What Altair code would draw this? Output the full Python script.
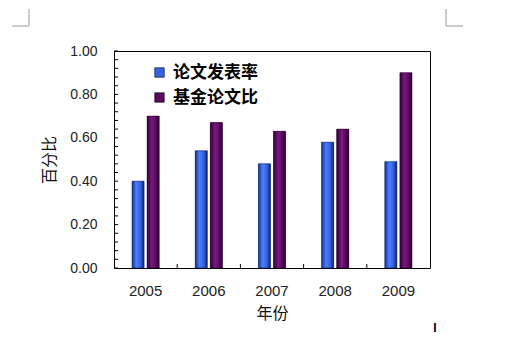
import altair as alt
import pandas as pd

years = ["2005", "2006", "2007", "2008", "2009"]
series_names = ["论文发表率", "基金论文比"]
rate_values = [0.40, 0.54, 0.48, 0.58, 0.49]
fund_values = [0.70, 0.67, 0.63, 0.64, 0.90]
y_tick_labels = [0.0, 0.2, 0.4, 0.6, 0.8, 1.0]
y_minor_ticks = [0.0, 0.04, 0.08, 0.12, 0.16, 0.2, 0.24, 0.28, 0.32, 0.36, 0.4,
                 0.44, 0.48, 0.52, 0.56, 0.6, 0.64, 0.68, 0.72, 0.76, 0.8,
                 0.84, 0.88, 0.92, 0.96, 1.0]
x_boundary_years = ["2006", "2007", "2008", "2009"]

W, H = 316, 217

rows = []
for yr, a, b in zip(years, rate_values, fund_values):
    rows.append({"year": yr, "series": series_names[0], "value": a})
    rows.append({"year": yr, "series": series_names[1], "value": b})
df = pd.DataFrame(rows)

x_enc = alt.X("year:N", title="年份",
              scale=alt.Scale(domain=years, paddingInner=0.57, paddingOuter=0.285),
              axis=alt.Axis(labelAngle=0, tickSize=0, domain=False,
                            labelFont="Liberation Sans", labelFontSize=15,
                            labelColor="#222", labelPadding=15,
                            titleFont="Noto Sans CJK SC", titleFontSize=16,
                            titleFontWeight="normal", titleColor="#111",
                            titlePadding=7))
xo_enc = alt.XOffset("series:N",
                     scale=alt.Scale(domain=series_names, paddingInner=0.2,
                                     paddingOuter=0))
y_axis = alt.Axis(values=y_tick_labels, format=".2f", tickSize=0,
                  domain=False, grid=False,
                  labelFont="Liberation Sans", labelFontSize=14,
                  labelColor="#222", labelPadding=17,
                  titleFont="Noto Sans CJK SC", titleFontSize=16,
                  titleFontWeight="normal", titleColor="#111",
                  titlePadding=12)
y_enc = alt.Y("value:Q", title="百分比",
              scale=alt.Scale(domain=[0, 1], nice=False), axis=y_axis)

base = alt.Chart(df)

legend_bars = base.mark_bar().encode(
    x=x_enc, xOffset=xo_enc, y=y_enc,
    color=alt.Color("series:N",
                    scale=alt.Scale(domain=series_names,
                                    range=["#3563e6", "#5c0a60"]),
                    legend=alt.Legend(orient="none", legendX=37, legendY=13,
                                      title=None, symbolType="square",
                                      symbolSize=90, symbolStrokeColor="#000",
                                      symbolStrokeWidth=0.6,
                                      labelFont="Noto Sans CJK SC",
                                      labelFontSize=17, labelFontWeight="bold",
                                      labelColor="#000", labelOffset=5,
                                      rowPadding=7, padding=0)),
)

blue_grad = alt.Gradient(gradient="linear", x1=0, x2=1, y1=0, y2=0, stops=[
    alt.GradientStop(color="#16308c", offset=0),
    alt.GradientStop(color="#4a80ff", offset=0.35),
    alt.GradientStop(color="#3560e0", offset=0.7),
    alt.GradientStop(color="#0f2470", offset=1)])
purple_grad = alt.Gradient(gradient="linear", x1=0, x2=1, y1=0, y2=0, stops=[
    alt.GradientStop(color="#33003a", offset=0),
    alt.GradientStop(color="#7a1a80", offset=0.4),
    alt.GradientStop(color="#5c0a62", offset=0.7),
    alt.GradientStop(color="#2e0034", offset=1)])

blue_bars = base.transform_filter(alt.datum.series == series_names[0]).mark_bar(
    color=blue_grad, stroke="#0a1a50", strokeWidth=0.5).encode(
    x=x_enc, xOffset=xo_enc, y=y_enc)
purple_bars = base.transform_filter(alt.datum.series == series_names[1]).mark_bar(
    color=purple_grad, stroke="#200024", strokeWidth=0.5).encode(
    x=x_enc, xOffset=xo_enc, y=y_enc)

yticks = alt.Chart(pd.DataFrame({"value": y_minor_ticks})).mark_rule(
    color="#000", strokeWidth=1).encode(
    y=y_enc, x=alt.value(0), x2=alt.value(4))

main = alt.layer(legend_bars, blue_bars, purple_bars, yticks)

xticks = alt.Chart(pd.DataFrame({"year": x_boundary_years})).mark_rule(
    color="#000", strokeWidth=1).encode(
    x=alt.X("year:N", bandPosition=0, axis=None,
            scale=alt.Scale(domain=years, paddingInner=0, paddingOuter=0)),
    y=alt.value(H), y2=alt.value(H - 4))

# page corner marks (decoration)
corner = alt.Chart(pd.DataFrame({"k": [0]}))
corners = alt.layer(
    corner.mark_rule(color="#9a9a9a").encode(x=alt.value(-85), y=alt.value(-42), y2=alt.value(-25)),
    corner.mark_rule(color="#9a9a9a").encode(x=alt.value(-102), x2=alt.value(-85), y=alt.value(-25)),
    corner.mark_rule(color="#9a9a9a").encode(x=alt.value(332), y=alt.value(-42), y2=alt.value(-25)),
    corner.mark_rule(color="#9a9a9a").encode(x=alt.value(332), x2=alt.value(349), y=alt.value(-25)),
    corner.mark_text(text="I", font="Liberation Sans", fontSize=12, fontWeight="bold",
                     color="#000").encode(x=alt.value(321), y=alt.value(277)),
)

chart = alt.layer(main, xticks, corners).resolve_scale(x="independent").properties(
    width=W, height=H,
    background="#ffffff",
    autosize=alt.AutoSizeParams(type="none"),
    padding={"left": 106, "top": 43, "right": 70, "bottom": 75},
).configure_view(stroke="#000", strokeWidth=1)

chart.save("out.html", embed_options={"renderer": "svg", "actions": False})
